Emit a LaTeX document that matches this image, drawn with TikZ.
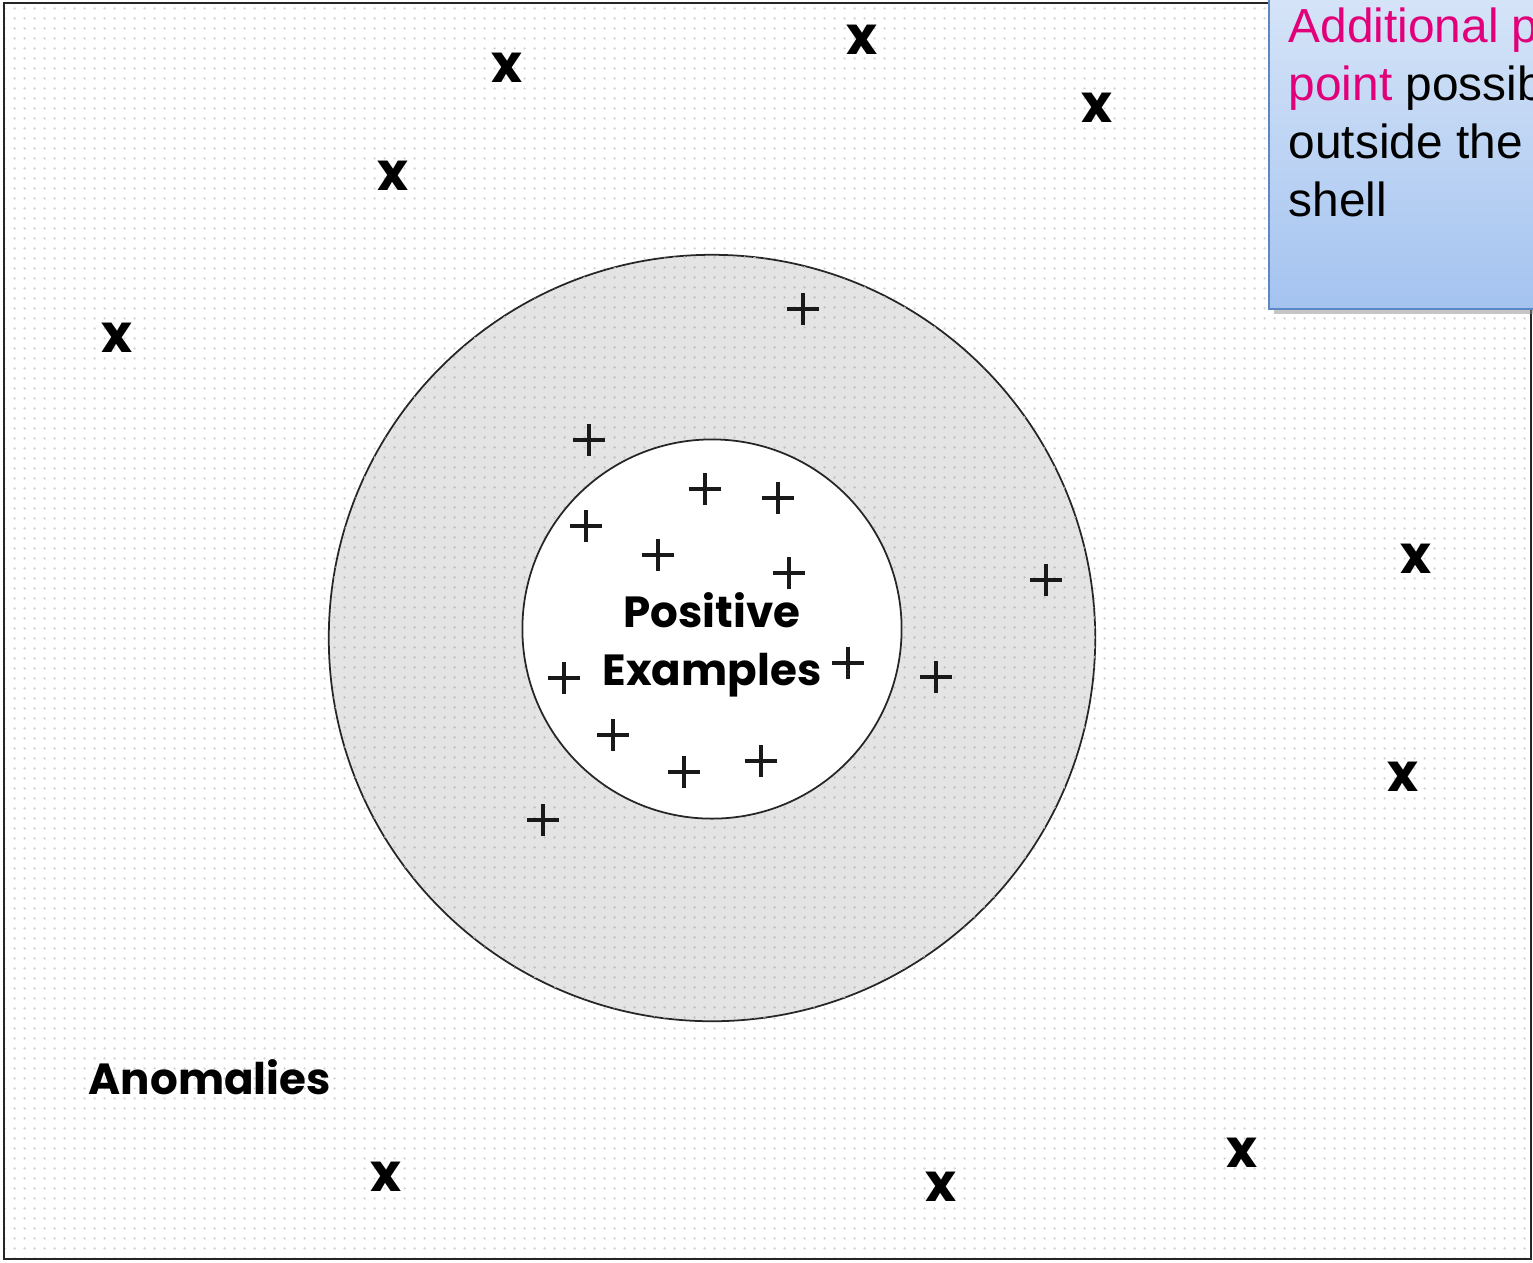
\documentclass[tikz,border=0pt]{standalone}
\usepackage{fontspec}
\setmainfont{Liberation Sans}
\newfontfamily\gothicfont{Poppins}
\usetikzlibrary{patterns.meta,shadows}
\definecolor{shellgray}{HTML}{E4E4E4}
\definecolor{notepink}{HTML}{E2007A}
\definecolor{notetop}{HTML}{DAE7F8}
\definecolor{notebottom}{HTML}{A4C3F0}
\definecolor{noteedge}{HTML}{5B88C4}
\tikzdeclarepattern{name=griddots, type=uncolored,
  bounding box={(0cm,0cm) and (0.1cm,0.1cm)}, tile size={(0.1cm,0.1cm)},
  code={\fill (0.05cm,0.05cm) circle (0.014cm);}}
\tikzset{
  shell/.style={circle, draw=black!85, line width=0.5pt, inner sep=0pt},
  anomaly/.style={font=\gothicfont\bfseries\fontsize{15}{15}\selectfont, inner sep=0pt},
  plusmark/.style={line width=1.05pt, black!90},
  label/.style={font=\gothicfont\bfseries\fontsize{12.4}{16.5}\selectfont, align=center, inner sep=0pt},
  notebox/.style={draw=noteedge, line width=0.6pt, top color=notetop, bottom color=notebottom,
    drop shadow={shadow xshift=0.05cm, shadow yshift=-0.05cm, fill=black!45}}
}

\begin{document}
\begin{tikzpicture}[x=0.01cm,y=-0.01cm]
\useasboundingbox (0,0) rectangle (1533,1262);
\clip (0,0) rectangle (1533,1262);
% dotted sheet
\fill[white] (4,3) rectangle (1531,1259);
\fill[pattern=griddots, pattern color=black!18] (4,3) rectangle (1531,1259);
\draw[black!85, line width=0.8pt] (4,3) rectangle (1531,1259);
% shells
\node[shell, fill=shellgray, postaction={pattern=griddots, pattern color=black!25},
  minimum size=7.66cm] (outer) at (712,638) {};
\node[shell, fill=white, minimum size=3.79cm] (inner) at (712,629) {};
\node[label] (posex) at (712,645) {Positive\\Examples};
\node[label, anchor=west] (anom) at (88,1077) {Anomalies};
% anomalies
\foreach \px/\py [count=\i] in {507/68,862/40,1097/108,393/176,117/338,
    1416/559,1403/777,386/1177,941/1187,1242/1153}{
  \node[anomaly] (x\i) at (\px,\py) {x};
}
% positive examples
\foreach \px/\py [count=\i] in {803/309,589/440,705/489,778/498,586/526,
    658/555,789/573,1046/580,564/678,848/663,936/677,613/735,684/772,761/761,543/820}{
  \coordinate (p\i) at (\px,\py);
  \draw[plusmark] ([xshift=-0.16cm]p\i) -- ([xshift=0.16cm]p\i)
    ([yshift=-0.16cm]p\i) -- ([yshift=0.16cm]p\i);
}
% note
\node[notebox, anchor=south west, minimum width=3.4cm, minimum height=3.4cm] (note) at (1268,310) {};
\node[anchor=north west, align=left, inner sep=0pt,
  font=\fontsize{13.6}{16.5}\selectfont] (notetext) at (1288,7)
  {\textcolor{notepink}{Additional positive}\\\textcolor{notepink}{point} possibly\\outside the\\shell};
\end{tikzpicture}
\end{document}
